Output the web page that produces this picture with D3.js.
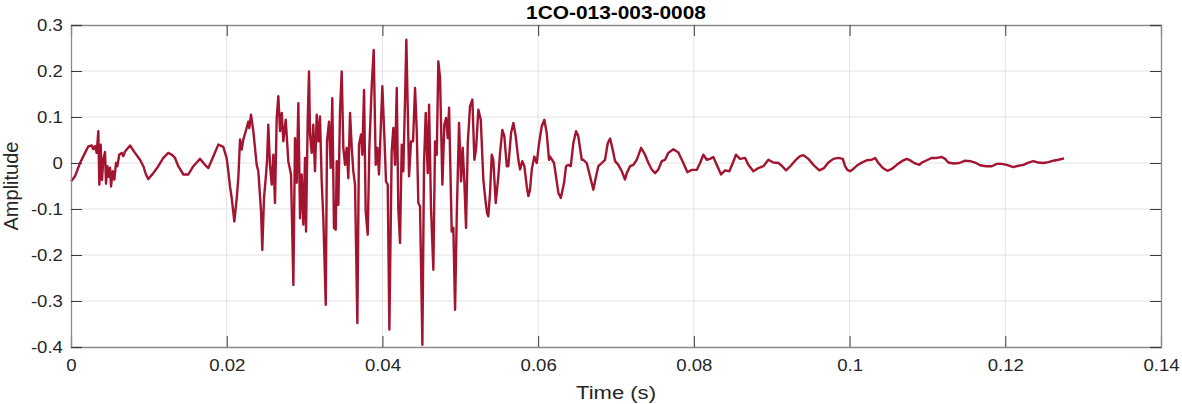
<!DOCTYPE html>
<html>
<head>
<style>
body {margin: 0; background: #fff; font-family: "Liberation Sans", Arial, sans-serif;}
.tick text {font-family: "Liberation Sans", Arial, sans-serif;}
</style>
<script src="https://cdnjs.cloudflare.com/ajax/libs/d3/7.8.5/d3.min.js"></script>
</head>
<body>
<div id="chart-container"></div>
<script>
    const title = "1CO-013-003-0008";
    const xTicks = [0, 0.02, 0.04, 0.06, 0.08, 0.1, 0.12, 0.14];
    const yTicks = [-0.4, -0.3, -0.2, -0.1, 0, 0.1, 0.2, 0.3];

    // time in ms
    const timeMs = [
        0, 0.51, 1.16, 1.80, 2.22, 2.66, 2.86, 3.08, 3.30, 3.51, 3.64, 3.81, 3.98, 4.15, 4.37, 4.50,
        4.67, 4.84, 5.01, 5.14, 5.36, 5.57, 5.78, 5.95, 6.20, 6.51, 6.72, 6.94, 7.58, 8.22, 8.86, 9.29,
        9.63, 9.93, 10.57, 11.21, 11.86, 12.50, 12.94, 13.36, 13.78, 14.43, 15.07, 15.71, 16.57, 17.21,
        17.64, 18.28, 18.92, 19.56, 20.00, 20.21, 20.42, 20.64, 20.98, 21.29, 21.49, 21.71, 21.93, 22.13,
        22.44, 22.78, 22.90, 23.12, 23.42, 23.85, 24.06, 24.41, 24.57, 24.79, 25.01, 25.18, 25.34, 25.56,
        25.78, 25.99, 26.20, 26.42, 26.63, 26.85, 27.07, 27.27, 27.58, 27.91, 28.26, 28.56, 28.77, 28.99,
        29.20, 29.42, 29.63, 29.84, 30.06, 30.19, 30.40, 30.57, 30.70, 30.92, 31.12, 31.34, 31.56, 31.77,
        31.98, 32.20, 32.41, 32.72, 32.88, 33.14, 33.36, 33.56, 33.78, 34.00, 34.13, 34.34, 34.55, 34.77,
        34.98, 35.20, 35.41, 35.62, 35.84, 36.06, 36.26, 36.48, 36.78, 36.99, 37.25, 37.42, 37.64, 37.85,
        38.11, 38.32, 38.63, 38.88, 39.14, 39.35, 39.56, 39.99, 40.24, 40.46, 40.68, 40.89, 41.19, 41.40,
        41.62, 41.84, 42.04, 42.26, 42.48, 42.68, 42.90, 43.07, 43.25, 43.42, 43.67, 43.93, 44.19, 44.41,
        44.61, 44.83, 45.13, 45.34, 45.56, 45.82, 45.99, 46.24, 46.54, 46.76, 46.98, 47.18, 47.40, 47.70,
        47.95, 48.17, 48.39, 48.56, 48.90, 49.11, 49.33, 49.55, 49.84, 50.10, 50.31, 50.52, 50.74, 50.96,
        51.25, 51.55, 51.81, 52.02, 52.32, 52.63, 52.96, 53.27, 53.44, 53.60, 53.82, 54.04, 54.24, 54.55,
        54.89, 55.11, 55.40, 55.66, 55.97, 56.17, 56.52, 56.82, 57.12, 57.46, 57.68, 57.97, 58.23, 58.54,
        58.74, 58.96, 59.18, 59.51, 59.82, 60.12, 60.46, 60.80, 61.10, 61.40, 61.53, 62.04, 62.60, 62.91,
        63.33, 63.58, 63.88, 64.19, 64.52, 64.87, 65.16, 65.60, 65.80, 66.24, 66.67, 67.09, 67.44, 67.73,
        68.17, 68.59, 68.94, 69.24, 69.58, 69.88, 70.30, 70.74, 71.16, 71.38, 71.81, 72.23, 72.67, 73.22,
        73.73, 74.16, 74.59, 75.02, 75.44, 75.88, 76.30, 76.72, 77.37, 78.01, 78.65, 79.17, 79.73, 80.37,
        80.80, 81.22, 81.66, 82.08, 82.50, 83.02, 83.49, 84.01, 84.56, 85.00, 85.42, 85.93, 86.58, 87.00,
        87.64, 88.29, 88.93, 89.57, 90.21, 90.86, 91.29, 91.84, 92.45, 93.00, 93.64, 94.07, 94.71, 95.35,
        96.12, 96.72, 97.28, 97.92, 98.56, 99.13, 99.42, 99.72, 100.06, 100.49, 100.92, 101.57, 102.21,
        102.85, 103.28, 103.70, 104.27, 104.86, 105.42, 106.06, 106.71, 107.35, 107.86, 108.41, 108.97,
        109.27, 109.92, 110.56, 111.20, 111.84, 112.27, 112.69, 113.34, 114.10, 114.84, 115.48, 116.12,
        116.76, 117.53, 118.27, 118.91, 119.55, 120.19, 121.04, 121.68, 122.33, 122.97, 123.61, 124.25,
        124.89, 125.54, 126.18, 126.82, 127.55
    ];

    const amplitude = [
        -0.040, -0.029, 0.000, 0.022, 0.036, 0.038, 0.030, 0.037, 0.022, 0.069, -0.047, 0.040, -0.037, 0.007, 0.024, -0.045,
        -0.007, -0.030, -0.010, -0.051, -0.018, -0.036, 0.000, -0.007, 0.018, 0.022, 0.015, 0.025, 0.038, 0.022, 0.007, -0.007,
        -0.025, -0.035, -0.022, -0.007, 0.011, 0.022, 0.018, 0.011, -0.007, -0.025, -0.025, -0.007, 0.009, -0.004,
        -0.011, 0.014, 0.040, 0.035, 0.010, -0.018, -0.051, -0.076, -0.127, -0.076, -0.033, 0.051, 0.029, 0.051,
        0.069, 0.090, 0.076, 0.105, 0.069, -0.004, -0.018, -0.105, -0.189, -0.076, -0.033, 0.004, 0.083, -0.004,
        -0.047, 0.018, -0.087, 0.098, 0.145, 0.069, 0.109, 0.047, 0.094, 0.004, -0.025, -0.265, 0.054, -0.043,
        0.130, -0.120, -0.025, -0.134, 0.011, -0.149, 0.090, 0.199, 0.062, 0.022, 0.083, -0.018, 0.105, 0.047,
        0.101, -0.040, -0.120, -0.308, 0.047, 0.090, -0.011, 0.141, -0.141, -0.145, 0.004, -0.091, 0.112, 0.199,
        0.033, -0.004, 0.033, -0.033, 0.109, 0.033, -0.018, -0.047, -0.348, 0.040, 0.062, 0.018, 0.159, -0.105,
        -0.156, 0.033, 0.170, 0.246, -0.004, 0.033, -0.025, 0.167, 0.062, -0.040, -0.047, -0.362, 0.025, 0.076,
        -0.004, 0.163, -0.098, -0.174, 0.040, -0.018, 0.134, 0.268, 0.120, -0.029, 0.047, 0.047, 0.163, 0.069,
        -0.087, -0.094, -0.395, -0.004, 0.109, -0.022, 0.127, -0.098, -0.232, 0.047, 0.018, 0.221, 0.185, -0.047,
        0.083, 0.098, 0.054, 0.120, -0.149, -0.141, -0.319, -0.112, 0.087, -0.040, 0.033, -0.040, -0.141, 0.043,
        0.123, 0.138, 0.007, 0.029, 0.116, 0.094, -0.036, -0.087, -0.109, -0.116, -0.065, 0.018, 0.007, -0.087,
        -0.029, 0.022, 0.072, 0.058, -0.007, -0.007, 0.065, 0.087, 0.058, 0.007, -0.014, 0.004, -0.007, -0.051,
        -0.072, -0.058, -0.014, 0.014, 0.000, 0.043, 0.080, 0.094, 0.065, 0.007, 0.014, 0.000, -0.065, -0.076,
        -0.043, -0.007, -0.004, -0.007, 0.043, 0.069, 0.058, 0.007, 0.007, 0.000, -0.029, -0.058, -0.029, -0.007,
        0.000, 0.007, 0.043, 0.053, 0.029, 0.004, -0.004, -0.018, -0.036, -0.022, -0.007, -0.004, 0.007, 0.033,
        0.018, 0.000, -0.014, -0.022, -0.014, 0.004, 0.007, 0.022, 0.030, 0.023, 0.000, -0.020, -0.015, -0.015,
        0.000, 0.018, 0.007, 0.009, 0.013, -0.007, -0.025, -0.016, -0.018, 0.000, 0.018, 0.009, 0.011, -0.004,
        -0.018, -0.011, -0.007, 0.007, 0.001, 0.000, -0.006, -0.016, -0.006, 0.005, 0.015, 0.017, 0.009, -0.004,
        -0.016, -0.011, 0.001, 0.009, 0.011, 0.009, -0.007, -0.015, -0.018, -0.013, -0.006, 0.001, 0.006,
        0.007, 0.011, 0.000, -0.011, -0.017, -0.013, -0.004, 0.004, 0.009, 0.005, -0.001, -0.004,
        0.001, 0.006, 0.011, 0.011, 0.013, 0.009, 0.001, -0.001, 0.000, 0.005, 0.004, 0.001,
        -0.005, -0.007, -0.007, -0.002, -0.002, -0.004, -0.009, -0.006, -0.004, 0.001, 0.004, 0.001,
        0.000, 0.002, 0.005, 0.007, 0.010
    ];

    const data = timeMs.map((t, i) => ({t: t / 1000, a: amplitude[i]}));

    const containerWidth = 1182;
    const containerHeight = 404;
    const margin = { top: 25, right: 21, bottom: 57, left: 71 };
    const width = containerWidth - margin.left - margin.right;
    const height = containerHeight - margin.top - margin.bottom;
    const stretch = 1.16; // text in the picture is a bit wider than Arial

    const svg = d3.select("#chart-container")
        .append("svg")
        .attr("width", containerWidth)
        .attr("height", containerHeight)
        .append("g")
        .attr("transform", `translate(${margin.left},${margin.top})`);

    const x = d3.scaleLinear().domain([0, 0.14]).range([0, width]);
    const y = d3.scaleLinear().domain([-0.4, 0.3]).range([height, 0]);

    // grid
    svg.append("g").selectAll("line")
        .data(xTicks.slice(1, -1))
        .join("line")
            .attr("x1", d => x(d)).attr("x2", d => x(d))
            .attr("y1", 0).attr("y2", height)
            .attr("stroke", "#e3e3e3").attr("stroke-width", 1);
    svg.append("g").selectAll("line")
        .data(yTicks.slice(1, -1))
        .join("line")
            .attr("x1", 0).attr("x2", width)
            .attr("y1", d => y(d)).attr("y2", d => y(d))
            .attr("stroke", "#e3e3e3").attr("stroke-width", 1);

    // waveform
    const line = d3.line().x(d => x(d.t)).y(d => y(d.a));
    svg.append("path")
        .datum(data)
        .attr("fill", "none")
        .attr("stroke", "#a2142f")
        .attr("stroke-width", 2.4)
        .attr("stroke-linejoin", "round")
        .attr("d", line);

    // axes, ticks pointing inward
    const fmt = d => d === 0 ? "0" : String(+d.toFixed(2));
    const xAxis = svg.append("g")
        .attr("transform", `translate(0,${height})`)
        .call(d3.axisBottom(x).tickValues(xTicks).tickSize(-11).tickPadding(13).tickFormat(fmt));
    const xTop = svg.append("g")
        .call(d3.axisTop(x).tickValues(xTicks).tickSize(-11).tickFormat(""));
    const yAxis = svg.append("g")
        .call(d3.axisLeft(y).tickValues(yTicks).tickSize(-11).tickPadding(7).tickFormat(fmt));
    const yRight = svg.append("g")
        .attr("transform", `translate(${width},0)`)
        .call(d3.axisRight(y).tickValues(yTicks).tickSize(-11).tickFormat(""));

    [xAxis, xTop, yAxis, yRight].forEach(g => {
        g.select(".domain").attr("stroke", "#8a8a8a").attr("stroke-width", 1.3);
        g.selectAll(".tick line").attr("stroke", "#3c3c3c");
        g.selectAll(".tick text")
            .attr("fill", "#262626")
            .attr("transform", `scale(${stretch},1)`)
            .style("font-size", "16px");
    });

    svg.append("text")
        .attr("transform", `translate(${width / 2},${-6.5}) scale(${stretch},1)`)
        .attr("text-anchor", "middle")
        .style("font-size", "18px").style("font-weight", "bold")
        .attr("fill", "#000")
        .text(title);

    svg.append("text")
        .attr("transform", `translate(${width / 2},${height + 52}) scale(${stretch},1)`)
        .attr("text-anchor", "middle")
        .style("font-size", "19px")
        .attr("fill", "#262626")
        .text("Time (s)");

    svg.append("text")
        .attr("transform", `translate(${-53},${height / 2}) rotate(-90)`)
        .attr("text-anchor", "middle")
        .style("font-size", "20px")
        .attr("fill", "#262626")
        .text("Amplitude");
</script>
</body>
</html>
